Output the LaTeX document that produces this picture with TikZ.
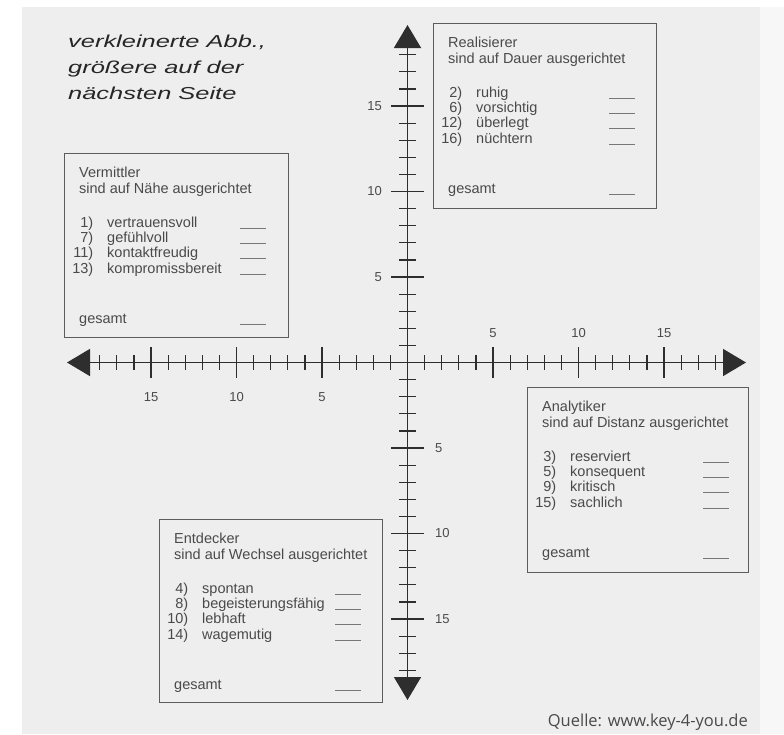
\documentclass[tikz,border=0pt]{standalone}
\usepackage{fontspec}
\setmainfont{Liberation Sans}
\newfontfamily\titelfont[FakeStretch=1.47]{Liberation Sans}
\newfontfamily\quellfont{Open Sans}
\usetikzlibrary{arrows.meta}

\definecolor{papier}{HTML}{EEEEEE}
\definecolor{druck}{HTML}{4A4A4A}
\definecolor{achse}{HTML}{2E2E2E}

\tikzset{
  kasten/.style={draw=druck!90, line width=1pt},
  eintrag/.style={anchor=base west, inner sep=0pt, text=druck, font=\fontsize{14.5}{15}\selectfont},
  nummer/.style={anchor=base east, inner sep=0pt, text=druck, font=\fontsize{14.5}{15}\selectfont},
  strich/.style={draw=druck!75, line width=0.8pt},
  skala/.style={inner sep=0pt, text=druck, font=\fontsize{13}{13}\selectfont},
  hinweis/.style={anchor=base west, inner sep=0pt, text=black!85, font=\titelfont\itshape\fontsize{17.3}{17.3}\selectfont},
  achsenlinie/.style={draw=achse, line width=1.6pt, {Triangle[length=23pt,width=27pt]}-{Triangle[length=23pt,width=27pt]}},
  teilung/.style={draw=achse, line width=1.2pt}
}

\begin{document}
\begin{tikzpicture}[x=1pt,y=-1pt]
\useasboundingbox (0,0) rectangle (784,734);
\fill[white] (0,0) rectangle (784,734);
\fill[papier] (22,7) rectangle (760,734);
\fill[papier!50!white] (760,7) rectangle (784,734);

\node[hinweis] (hinweis1) at (68,47.5) {verkleinerte Abb.,};
\node[hinweis] (hinweis2) at (68,73.5) {größere auf der};
\node[hinweis] (hinweis3) at (68,99.5) {nächsten Seite};

% Achsen
\draw[achsenlinie] (67,362.5) -- (746,362.5);
\draw[achsenlinie] (407.5,25) -- (407.5,700);
\foreach \i in {1,...,18} {
  \draw[teilung] ({407.5+17.1*\i},355) -- ++(0,15);
  \draw[teilung] ({407.5-17.1*\i},355) -- ++(0,15);
  \draw[teilung] (399,{362.5-17.1*\i}) -- ++(17,0);
  \draw[teilung] (399,{362.5+17.1*\i}) -- ++(17,0);
}
\foreach \i in {5,10,15} {
  \draw[teilung] ({407.5+17.1*\i},347) -- ++(0,31);
  \draw[teilung] ({407.5-17.1*\i},347) -- ++(0,31);
  \draw[teilung] (391,{362.5-17.1*\i}) -- ++(33,0);
  \draw[teilung] (391,{362.5+17.1*\i}) -- ++(33,0);
  \node[skala, anchor=base] (xp\i) at ({407.5+17.1*\i},337) {\i};
  \node[skala, anchor=base] (xn\i) at ({407.5-17.1*\i},401) {\i};
  \node[skala, anchor=east] (yp\i) at (382,{362.5-17.1*\i}) {\i};
  \node[skala, anchor=west] (yn\i) at (435,{362.5+17.1*\i}) {\i};
}

% Vermittler
\begin{scope}[shift={(64,153)}]
\draw[kasten] (0,0) rectangle (224,184);
\node[eintrag] (vtitel) at (15,24) {Vermittler};
\node[eintrag] (vsub) at (15,40) {sind auf Nähe ausgerichtet};
\foreach \n/\w [count=\k] in {1/vertrauensvoll, 7/gefühlvoll, 11/kontaktfreudig, 13/kompromissbereit} {
  \node[nummer] (vn\n) at (29.5,{74+15.4*(\k-1)}) {\n)};
  \node[eintrag] (vw\n) at (43,{74+15.4*(\k-1)}) {\w};
  \draw[strich] (176,{75+15.4*(\k-1)}) -- (202,{75+15.4*(\k-1)});
}
\node[eintrag] (vges) at (15,170) {gesamt};
\draw[strich] (176,171) -- (202,171);
\end{scope}

% Realisierer
\begin{scope}[shift={(433,23)}]
\draw[kasten] (0,0) rectangle (223,185);
\node[eintrag] (rtitel) at (15,24) {Realisierer};
\node[eintrag] (rsub) at (15,40) {sind auf Dauer ausgerichtet};
\foreach \n/\w [count=\k] in {2/ruhig, 6/vorsichtig, 12/überlegt, 16/nüchtern} {
  \node[nummer] (rn\n) at (29.5,{74+15.4*(\k-1)}) {\n)};
  \node[eintrag] (rw\n) at (43,{74+15.4*(\k-1)}) {\w};
  \draw[strich] (176,{75+15.4*(\k-1)}) -- (202,{75+15.4*(\k-1)});
}
\node[eintrag] (rges) at (15,170) {gesamt};
\draw[strich] (176,171) -- (202,171);
\end{scope}

% Analytiker
\begin{scope}[shift={(527,387)}]
\draw[kasten] (0,0) rectangle (221,185);
\node[eintrag] (atitel) at (15,24) {Analytiker};
\node[eintrag] (asub) at (15,40) {sind auf Distanz ausgerichtet};
\foreach \n/\w [count=\k] in {3/reserviert, 5/konsequent, 9/kritisch, 15/sachlich} {
  \node[nummer] (an\n) at (29.5,{74+15.4*(\k-1)}) {\n)};
  \node[eintrag] (aw\n) at (43,{74+15.4*(\k-1)}) {\w};
  \draw[strich] (176,{75+15.4*(\k-1)}) -- (202,{75+15.4*(\k-1)});
}
\node[eintrag] (ages) at (15,170) {gesamt};
\draw[strich] (176,171) -- (202,171);
\end{scope}

% Entdecker
\begin{scope}[shift={(159,519)}]
\draw[kasten] (0,0) rectangle (223,183);
\node[eintrag] (etitel) at (15,24) {Entdecker};
\node[eintrag] (esub) at (15,40) {sind auf Wechsel ausgerichtet};
\foreach \n/\w [count=\k] in {4/spontan, 8/begeisterungsfähig, 10/lebhaft, 14/wagemutig} {
  \node[nummer] (en\n) at (29.5,{74+15.4*(\k-1)}) {\n)};
  \node[eintrag] (ew\n) at (43,{74+15.4*(\k-1)}) {\w};
  \draw[strich] (176,{75+15.4*(\k-1)}) -- (202,{75+15.4*(\k-1)});
}
\node[eintrag] (eges) at (15,170) {gesamt};
\draw[strich] (176,171) -- (202,171);
\end{scope}

\node[anchor=base east, inner sep=0pt, text=druck, font=\quellfont\fontsize{16.5}{16.5}\selectfont] (quelle) at (748,726) {Quelle: www.key-4-you.de};
\end{tikzpicture}
\end{document}
